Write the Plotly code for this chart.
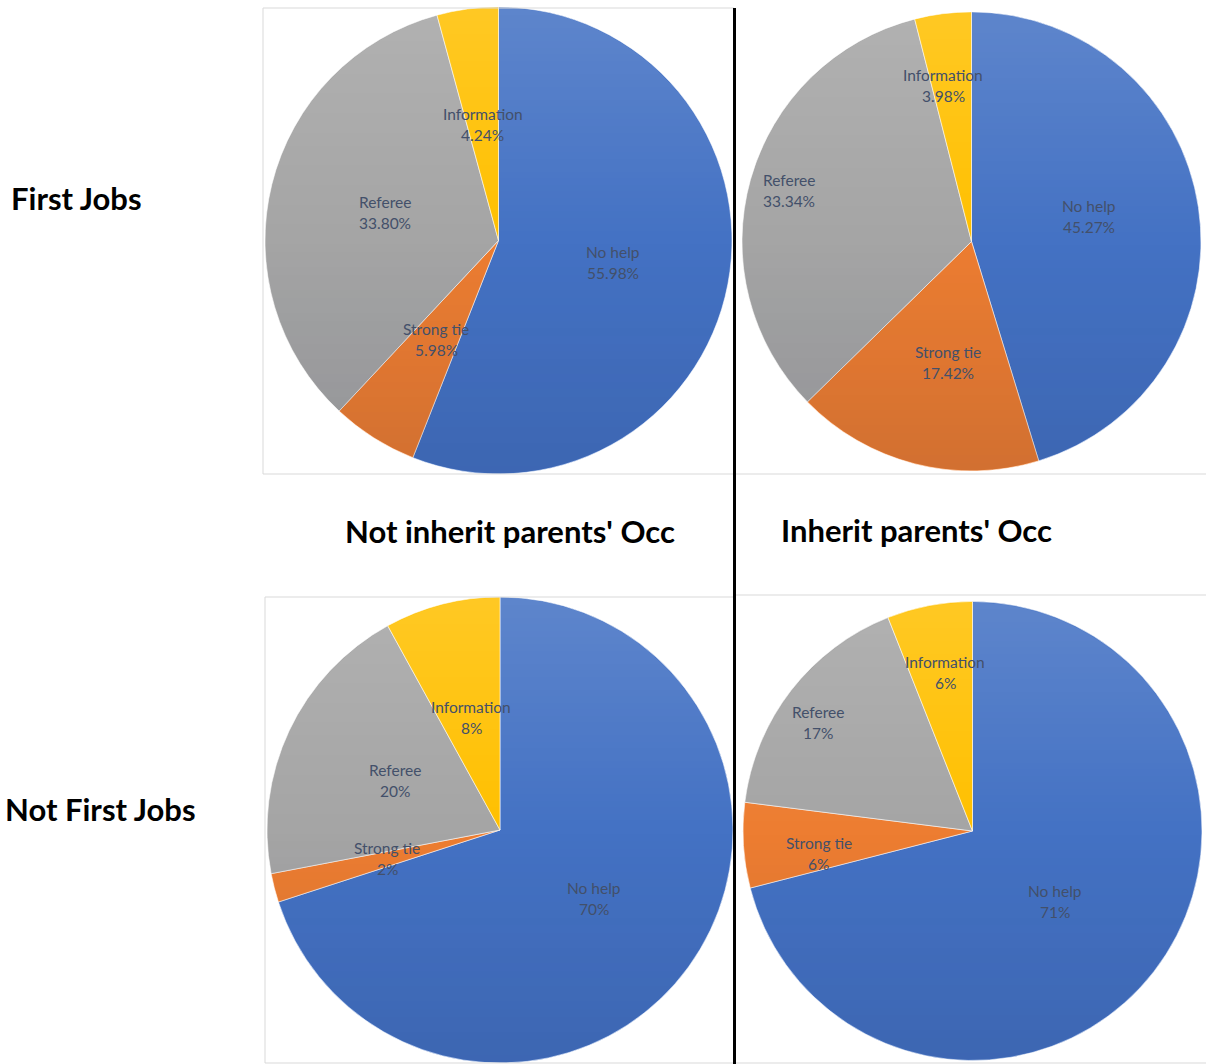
import base64
import math
import struct
import zlib

import numpy as np
import plotly.graph_objects as go

W, H = 1206, 1064

# ---- data -------------------------------------------------------------
categories = ["No help", "Strong tie", "Referee", "Information"]
first_jobs_not_inherit = [55.98, 5.98, 33.80, 4.24]
first_jobs_inherit = [45.27, 17.42, 33.34, 3.98]
later_jobs_not_inherit = [70, 2, 20, 8]
later_jobs_inherit = [71, 6, 17, 6]

row_titles = ["First Jobs", "Not First Jobs"]
col_titles = ["Not inherit parents' Occ", "Inherit parents' Occ"]

# ---- style ------------------------------------------------------------
slice_colors = ["#4472C4", "#ED7D31", "#A5A5A5", "#FFC000"]
label_color = "#43506a"
label_font = "Lato"
title_font = "Lato"

# pixel placement of each pie (centre x, centre y, radius); data labels sit
# at a fraction of the radius, with a small angular nudge in degrees
panels = [
    dict(values=first_jobs_not_inherit, cx=498.5, cy=240.5, r=233.5,
         fmt="{:.2f}%", label_r=[0.50, 0.50, 0.50, 0.50],
         label_turn=[0, 0, 0, 0]),
    dict(values=first_jobs_inherit, cx=971.5, cy=241.5, r=229.5,
         fmt="{:.2f}%", label_r=[0.523, 0.537, 0.826, 0.691],
         label_turn=[-3.5, -3.3, 0, -3.1]),
    dict(values=later_jobs_not_inherit, cx=500.0, cy=830.0, r=233.0,
         fmt="{:.0f}%", label_r=[0.50, 0.50, 0.50, 0.50],
         label_turn=[0, 0, 0, 0]),
    dict(values=later_jobs_inherit, cx=972.5, cy=831.0, r=229.5,
         fmt="{:.0f}%", label_r=[0.473, 0.676, 0.823, 0.701],
         label_turn=[2.7, -4.7, -2.7, 1.0]),
]


def px_x(x):
    return x / W


def px_y(y):
    return 1 - y / H


def shading_png(diameter, light=0.14, dark=0.12):
    """Round vertical light-to-dark sheen laid over a pie (RGBA PNG)."""
    n = int(round(diameter))
    c = n / 2
    yy, xx = np.mgrid[0:n, 0:n] + 0.5
    dist = np.hypot(xx - c, yy - c)
    cover = np.clip(c - 0.8 - dist + 0.5, 0, 1)
    t = yy / n
    alpha = np.where(t < 0.5, light * (1 - 2 * t), dark * (2 * t - 1)) * cover
    img = np.zeros((n, n, 4), dtype=np.uint8)
    # light half is white, dark half a deep blue-grey so colours stay rich
    img[..., 0] = np.where(t < 0.5, 255, 10)
    img[..., 1] = np.where(t < 0.5, 255, 20)
    img[..., 2] = np.where(t < 0.5, 255, 50)
    img[..., 3] = np.round(alpha * 255).astype(np.uint8)
    raw = b"".join(b"\x00" + img[i].tobytes() for i in range(n))

    def chunk(tag, data):
        return (struct.pack(">I", len(data)) + tag + data
                + struct.pack(">I", zlib.crc32(tag + data) & 0xFFFFFFFF))

    png = (b"\x89PNG\r\n\x1a\n"
           + chunk(b"IHDR", struct.pack(">IIBBBBB", n, n, 8, 6, 0, 0, 0))
           + chunk(b"IDAT", zlib.compress(raw, 9))
           + chunk(b"IEND", b""))
    return "data:image/png;base64," + base64.b64encode(png).decode()


fig = go.Figure()
annotations = []
images = []

for p in panels:
    cx, cy, r = p["cx"], p["cy"], p["r"]
    fig.add_trace(go.Pie(
        labels=categories,
        values=p["values"],
        sort=False,
        direction="clockwise",
        rotation=0,
        textinfo="none",
        hoverinfo="label+value",
        marker=dict(colors=slice_colors,
                    line=dict(color="rgba(255,255,255,0.55)", width=1)),
        domain=dict(x=[px_x(cx - r), px_x(cx + r)],
                    y=[px_y(cy + r), px_y(cy - r)]),
        showlegend=False,
    ))

    images.append(dict(
        source=shading_png(2 * r), xref="paper", yref="paper",
        x=px_x(cx - r), y=px_y(cy - r), sizex=2 * r / W, sizey=2 * r / H,
        xanchor="left", yanchor="top", sizing="stretch", layer="above",
    ))

    # data labels around the middle angle of every slice
    total = sum(p["values"])
    start = 0.0
    for name, v, fr, turn in zip(categories, p["values"], p["label_r"], p["label_turn"]):
        mid = (start + v / 2) / total * 2 * math.pi + math.radians(turn)
        start += v
        lx = cx + fr * r * math.sin(mid)
        ly = cy - fr * r * math.cos(mid)
        for text, dy in ((name, -10.5), (p["fmt"].format(v), 10.5)):
            annotations.append(dict(
                x=px_x(lx), y=px_y(ly + dy), xref="paper", yref="paper",
                text=text, showarrow=False, xanchor="center", yanchor="middle",
                font=dict(family=label_font, size=15.5, color=label_color),
            ))

# row / column headings
heading = dict(family=title_font, size=31, color="#000000")
annotations += [
    dict(x=px_x(9), y=px_y(198), text=f"<b>{row_titles[0]}</b>", xanchor="left"),
    dict(x=px_x(3), y=px_y(809), text=f"<b>{row_titles[1]}</b>", xanchor="left"),
    dict(x=px_x(509.5), y=px_y(531), text=f"<b>{col_titles[0]}</b>", xanchor="center"),
    dict(x=px_x(916.5), y=px_y(530), text=f"<b>{col_titles[1]}</b>", xanchor="center"),
]
for a in annotations[-4:]:
    a.update(xref="paper", yref="paper", showarrow=False, yanchor="middle", font=heading)

# light chart-area borders and the black divider
frame = dict(color="#d9d9d9", width=1)
segments = [
    (263, 8, 734, 8), (263, 8, 263, 474), (263, 474, 1206, 474),
    (265, 597, 734, 597), (265, 597, 265, 1063), (265, 1063, 1206, 1063),
    (734, 595, 1206, 595),
]
shapes = [dict(type="line", xref="paper", yref="paper",
               x0=px_x(x0), y0=px_y(y0), x1=px_x(x1), y1=px_y(y1), line=frame)
          for x0, y0, x1, y1 in segments]
shapes.append(dict(type="line", xref="paper", yref="paper",
                   x0=px_x(734.5), y0=px_y(8), x1=px_x(734.5), y1=px_y(1064),
                   line=dict(color="#000000", width=3)))

fig.update_layout(
    width=W, height=H,
    margin=dict(l=0, r=0, t=0, b=0),
    paper_bgcolor="white", plot_bgcolor="white",
    annotations=annotations, shapes=shapes, images=images,
    showlegend=False,
)

fig.write_html("out.html")
